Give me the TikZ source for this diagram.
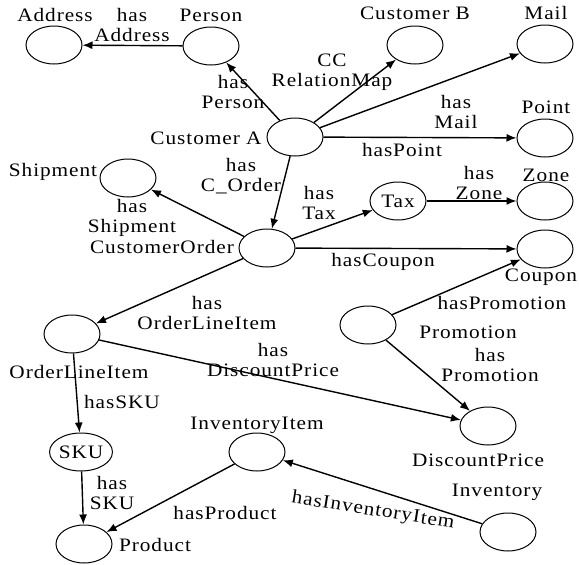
\documentclass[tikz,border=0pt]{standalone}
\usepackage{fontspec}
\setmainfont{Liberation Serif}[FakeStretch=1.12, LetterSpace=5]
\usetikzlibrary{positioning,arrows.meta,shapes.geometric}

\begin{document}
\begin{tikzpicture}[
  x=1pt, y=-1pt,
  every node/.style={font=\fontsize{19}{20}\selectfont},
  cls/.style={ellipse, draw, line width=1pt, minimum width=56pt, minimum height=38pt, inner sep=0pt},
  lbl/.style={align=center, inner sep=0pt},
  rel/.style={-{Latex[length=10pt,width=8pt]}, line width=1.4pt}
]
% 1 unit = 1 pixel of the reference, y grows downwards
\useasboundingbox (0,0) rectangle (579,565);

% Classes
\node[cls] (address)   at (54,45) {};
\node[cls] (person)    at (211,46) {};
\node[cls] (custA)     at (295,137) {};
\node[cls] (custB)     at (415,45) {};
\node[cls] (mail)      at (545,44) {};
\node[cls] (point)     at (545,138) {};
\node[cls] (shipment)  at (128,178) {};
\node[cls] (tax)       at (398,201) {Tax};
\node[cls] (zone)      at (545,201) {};
\node[cls] (order)     at (267,248) {};
\node[cls] (coupon)    at (545,249) {};
\node[cls] (promotion) at (368,325) {};
\node[cls] (lineitem)  at (72,334) {};
\node[cls] (discount)  at (488,426) {};
\node[cls] (sku)       at (81,452) {SKU};
\node[cls] (invitem)   at (257,452) {};
\node[cls] (inventory) at (508,532) {};
\node[cls] (product)   at (84,544) {};

% Class names
\node[lbl] (nAddress)   at (55,15)  {Address};
\node[lbl] (nPerson)    at (211,15) {Person};
\node[lbl] (nCustA)     at (206,138) {Customer A};
\node[lbl] (nCustB)     at (415,13) {Customer B};
\node[lbl] (nMail)      at (546,13) {Mail};
\node[lbl] (nPoint)     at (546,107) {Point};
\node[lbl] (nShipment)  at (53,172) {Shipment};
\node[lbl] (nZone)      at (546,175) {Zone};
\node[lbl] (nOrder)     at (162,247) {CustomerOrder};
\node[lbl] (nCoupon)    at (541,277) {Coupon};
\node[lbl] (nPromotion) at (468,332) {Promotion};
\node[lbl] (nLineItem)  at (79,372) {OrderLineItem};
\node[lbl] (nInvItem)   at (257,425) {InventoryItem};
\node[lbl] (nDiscount)  at (478,460) {DiscountPrice};
\node[lbl] (nInventory) at (497,492) {Inventory};
\node[lbl] (nProduct)   at (155,545) {Product};

% Relations
\draw[rel] (person) -- (address);
\draw[rel] (custA) -- (person);
\draw[rel] (custA) -- (custB);
\draw[rel] (custA) -- (mail);
\draw[rel] (custA) -- (point);
\draw[rel] (custA) -- (order);
\draw[rel] (order) -- (shipment);
\draw[rel] (order) -- (tax);
\draw[rel] (tax) -- (zone);
\draw[rel] (order) -- (coupon);
\draw[rel] (order) -- (lineitem);
\draw[rel] (promotion) -- (coupon);
\draw[rel] (promotion) -- (discount);
\draw[rel] (lineitem) -- (discount);
\draw[rel] (lineitem) -- (sku);
\draw[rel] (sku) -- (product);
\draw[rel] (invitem) -- (product);
\draw[rel] (inventory) -- (invitem);

% Relation names
\node[lbl] (rAddress)   at (132,25)  {has\\Address};
\node[lbl] (rPerson)    at (233,92)  {has\\Person};
\node[lbl] (rRelMap)    at (332,72)  {CC\\RelationMap};
\node[lbl] (rMail)      at (456,112) {has\\Mail};
\node[lbl] (rPoint)     at (402,150) {hasPoint};
\node[lbl] (rOrder)     at (241,176) {has\\C\_Order};
\node[lbl] (rZone)      at (479,183) {has\\Zone};
\node[lbl] (rTax)       at (319,203) {has\\Tax};
\node[lbl] (rShipment)  at (132,218) {has\\Shipment};
\node[lbl] (rCoupon)    at (383,262) {hasCoupon};
\node[lbl] (rPromoA)    at (502,303) {hasPromotion};
\node[lbl] (rLineItem)  at (207,313) {has\\OrderLineItem};
\node[lbl] (rDiscount)  at (273,360) {has\\DiscountPrice};
\node[lbl] (rPromoB)    at (490,365) {has\\Promotion};
\node[lbl] (rSku)       at (122,402) {hasSKU};
\node[lbl] (rProduct)   at (112,493) {has\\SKU};
\node[lbl] (rHasProd)   at (225,513) {hasProduct};
\node[lbl, rotate=-9] (rInvItem) at (373,511) {hasInventoryItem};
\end{tikzpicture}
\end{document}
